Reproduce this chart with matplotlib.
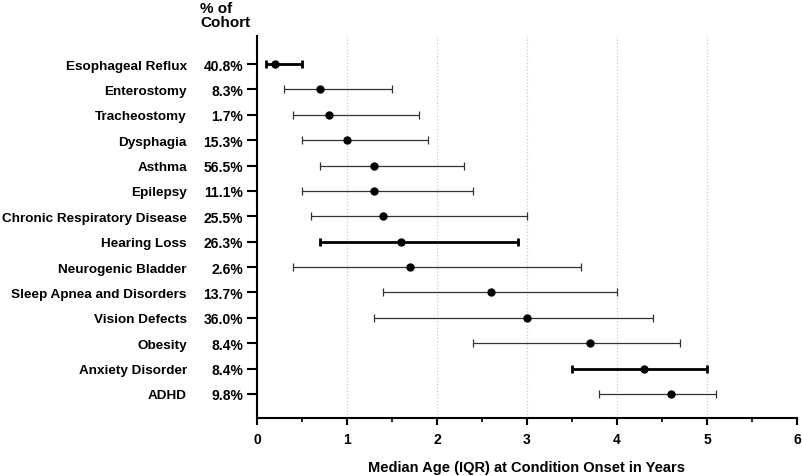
import numpy as np
import matplotlib.pyplot as plt

# data
conditions = ['Esophageal Reflux', 'Enterostomy', 'Tracheostomy', 'Dysphagia', 'Asthma',
              'Epilepsy', 'Chronic Respiratory Disease', 'Hearing Loss', 'Neurogenic Bladder',
              'Sleep Apnea and Disorders', 'Vision Defects', 'Obesity', 'Anxiety Disorder', 'ADHD']
pct_cohort = ['40.8%', '8.3%', '1.7%', '15.3%', '56.5%', '11.1%', '25.5%', '26.3%', '2.6%',
              '13.7%', '36.0%', '8.4%', '8.4%', '9.8%']
median_age = [0.2, 0.7, 0.8, 1.0, 1.3, 1.3, 1.4, 1.6, 1.7, 2.6, 3.0, 3.7, 4.3, 4.6]
q1 = [0.1, 0.3, 0.4, 0.5, 0.7, 0.5, 0.6, 0.7, 0.4, 1.4, 1.3, 2.4, 3.5, 3.8]
q3 = [0.5, 1.5, 1.8, 1.9, 2.3, 2.4, 3.0, 2.9, 3.6, 4.0, 4.4, 4.7, 5.0, 5.1]
bold_rows = ['Esophageal Reflux', 'Hearing Loss', 'Anxiety Disorder']

plt.rcParams['font.family'] = ['Liberation Sans', 'DejaVu Sans']
plt.rcParams['font.weight'] = 'bold'

fig = plt.figure(figsize=(8.02, 4.77), dpi=100)
ax = fig.add_axes([0.3204, 0.121, 0.6734, 0.801])

n = len(conditions)
ypos = np.arange(n, 0, -1)

for i in range(n):
    thick = conditions[i] in bold_rows
    lw = 2.0 if thick else 0.9
    col = 'black' if thick else '#333333'
    ax.errorbar(median_age[i], ypos[i],
                xerr=[[median_age[i] - q1[i]], [q3[i] - median_age[i]]],
                fmt='none', ecolor=col, elinewidth=lw, capsize=3, capthick=lw, zorder=2)
ax.plot(median_age, ypos, 'o', color='black', markersize=5, zorder=3)

ax.set_xlim(0, 6)
ax.set_ylim(0.04, 15.1)
ax.set_xticks(range(7))
ax.set_xticks(np.arange(0.5, 6, 1), minor=True)
ax.set_yticks(ypos)
ax.set_yticklabels(pct_cohort, fontsize=10, fontweight='bold')
ax.tick_params(axis='y', length=7, width=1.5, pad=3)
ax.tick_params(axis='x', which='major', length=5, width=1.5, labelsize=10, pad=5)
ax.tick_params(axis='x', which='minor', length=3, width=1.2)
for lbl in ax.get_xticklabels():
    lbl.set_fontweight('bold')

for x in range(1, 6):
    ax.axvline(x, color='#cccccc', linestyle=':', linewidth=0.9, zorder=0)

for s in ['top', 'right']:
    ax.spines[s].set_visible(False)
for s in ['left', 'bottom']:
    ax.spines[s].set_linewidth(1.5)

# condition names to the left of the percentages
for i in range(n):
    ax.annotate(conditions[i], xy=(0, ypos[i]), xycoords=('axes fraction', 'data'),
                xytext=(-50.5, 0), textcoords='offset points',
                ha='right', va='center_baseline', fontsize=9.7, fontweight='bold')

fig.text(200 / 802, 1 - 2 / 477, '% of\nCohort', ha='left', va='top',
         fontsize=11, fontweight='bold', linespacing=1.0)

ax.set_xlabel('Median Age (IQR) at Condition Onset in Years', fontsize=10.5,
              fontweight='bold', labelpad=10)

fig.savefig('out.png', dpi=100)
